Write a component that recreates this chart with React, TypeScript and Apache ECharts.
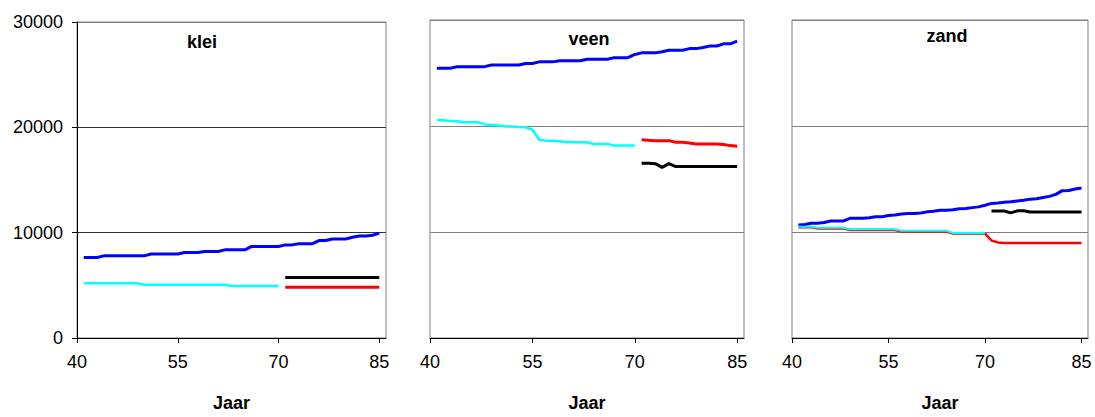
import React, { useEffect, useRef } from "react";
import * as echarts from "echarts";

// ---- x values (years) ----
const yearsFull = [41, 42, 43, 44, 45, 46, 47, 48, 49, 50, 51, 52, 53, 54, 55, 56, 57, 58, 59, 60, 61, 62, 63, 64, 65, 66, 67, 68, 69, 70, 71, 72, 73, 74, 75, 76, 77, 78, 79, 80, 81, 82, 83, 84, 85];
const yearsPast = [41, 42, 43, 44, 45, 46, 47, 48, 49, 50, 51, 52, 53, 54, 55, 56, 57, 58, 59, 60, 61, 62, 63, 64, 65, 66, 67, 68, 69, 70];
const yearsFuture = [71, 72, 73, 74, 75, 76, 77, 78, 79, 80, 81, 82, 83, 84, 85];

const xTicks = [40, 55, 70, 85];
const yTicks = [0, 10000, 20000, 30000];
const panelTitles = ["klei", "veen", "zand"];
const xName = "Jaar";

// ---- klei ----
const kleiBlue = [7650, 7650, 7650, 7800, 7800, 7800, 7800, 7800, 7800, 7800, 7970, 7970, 7970, 7970, 7970, 8120, 8120, 8120, 8220, 8220, 8220, 8370, 8370, 8370, 8370, 8690, 8690, 8690, 8690, 8690, 8840, 8840, 8940, 8940, 8940, 9250, 9250, 9400, 9400, 9400, 9560, 9690, 9690, 9750, 9950];
const kleiCyan = [5190, 5190, 5190, 5190, 5190, 5190, 5190, 5190, 5190, 5060, 5060, 5060, 5060, 5060, 5060, 5060, 5060, 5060, 5060, 5060, 5060, 5060, 4940, 4940, 4940, 4940, 4940, 4940, 4940, 4940];
const kleiRed = [4810, 4810, 4810, 4810, 4810, 4810, 4810, 4810, 4810, 4810, 4810, 4810, 4810, 4810, 4810];
const kleiBlack = [5750, 5750, 5750, 5750, 5750, 5750, 5750, 5750, 5750, 5750, 5750, 5750, 5750, 5750, 5750];

// ---- veen ----
const veenBlue = [25450, 25450, 25450, 25600, 25600, 25600, 25600, 25600, 25750, 25750, 25750, 25750, 25750, 25900, 25900, 26050, 26050, 26050, 26150, 26150, 26150, 26150, 26300, 26300, 26300, 26300, 26450, 26450, 26450, 26750, 26900, 26900, 26900, 27000, 27150, 27150, 27150, 27300, 27300, 27400, 27550, 27550, 27750, 27750, 28000];
const veenCyan = [20570, 20550, 20470, 20450, 20350, 20350, 20350, 20150, 20100, 20050, 19950, 19950, 19900, 19880, 19650, 18700, 18620, 18600, 18560, 18470, 18470, 18470, 18470, 18310, 18310, 18310, 18150, 18150, 18150, 18150];
const veenRed = [18710, 18650, 18620, 18620, 18620, 18470, 18470, 18400, 18310, 18310, 18310, 18310, 18250, 18150, 18100];
const veenBlack = [16480, 16480, 16450, 16100, 16450, 16170, 16170, 16170, 16170, 16170, 16170, 16170, 16170, 16170, 16170];

// ---- zand ----
const zandBlue = [10670, 10700, 10820, 10820, 10900, 11040, 11040, 11040, 11290, 11290, 11290, 11350, 11440, 11440, 11550, 11600, 11700, 11750, 11750, 11800, 11900, 11950, 12060, 12060, 12100, 12200, 12210, 12300, 12370, 12530, 12700, 12740, 12800, 12850, 12930, 13000, 13100, 13140, 13250, 13360, 13550, 13900, 13920, 14050, 14160];
const zandCyan = [10500, 10500, 10500, 10400, 10400, 10400, 10400, 10400, 10250, 10250, 10250, 10250, 10250, 10250, 10250, 10250, 10110, 10110, 10110, 10110, 10110, 10110, 10110, 10110, 9910, 9910, 9910, 9910, 9910, 9910];
const zandRed = [10440, 10440, 10440, 10340, 10340, 10340, 10340, 10340, 10190, 10190, 10190, 10190, 10190, 10190, 10190, 10190, 10050, 10050, 10050, 10050, 10050, 10050, 10050, 10050, 9850, 9850, 9850, 9850, 9850, 9850, 9200, 9020, 8970, 8970, 8970, 8970, 8970, 8970, 8970, 8970, 8970, 8970, 8970, 8970, 8970];
const zandBlack = [11980, 11980, 11980, 11800, 12000, 12000, 11890, 11890, 11890, 11890, 11890, 11890, 11890, 11890, 11890];

const FONT = "'Liberation Sans', Arial, sans-serif";

const pair = (xs: number[], ys: number[]) => xs.map((x, i) => [x, ys[i]]);

export default function App() {
  const ref = useRef<HTMLDivElement>(null);
  useEffect(() => {
    if (!ref.current) return;
    const chart = echarts.init(ref.current, null, { renderer: "svg" });

    const grids = [
      { left: 77, top: 22, width: 309, height: 320 },
      { left: 430, top: 20, width: 314, height: 323 },
      { left: 792, top: 20, width: 296, height: 323 },
    ];
    const titlePos = [
      [202, 42],
      [589, 39],
      [947, 35.5],
    ];

    const panels = [
      { blue: pair(yearsFull, kleiBlue), cyan: pair(yearsPast, kleiCyan), red: pair(yearsFuture, kleiRed), black: pair(yearsFuture, kleiBlack), thin: false },
      { blue: pair(yearsFull, veenBlue), cyan: pair(yearsPast, veenCyan), red: pair(yearsFuture, veenRed), black: pair(yearsFuture, veenBlack), thin: false },
      { blue: pair(yearsFull, zandBlue), cyan: pair(yearsPast, zandCyan), red: pair(yearsFull, zandRed), black: pair(yearsFuture, zandBlack), thin: true },
    ];

    const series: any[] = [];
    panels.forEach((p, i) => {
      const mk = (data: number[][], color: string, width: number) => ({
        type: "line",
        xAxisIndex: i,
        yAxisIndex: i,
        data,
        showSymbol: false,
        symbol: "none",
        silent: true,
        lineStyle: { color, width },
        itemStyle: { color },
      });
      series.push(mk(p.blue, "#0000FF", 3));
      series.push(mk(p.red, "#FF0000", p.thin ? 2.5 : 3));
      series.push(mk(p.cyan, "#00FFFF", p.thin ? 2 : 2.5));
      series.push(mk(p.black, "#000000", 3));
    });

    const option: any = {
      animation: false,
      grid: grids.map((g) => ({ ...g, show: true, borderColor: "#808080", borderWidth: 1, backgroundColor: "transparent" })),
      xAxis: grids.map((_, i) => ({
        type: "value",
        gridIndex: i,
        min: 40,
        max: 86,
        interval: 15,
        name: xName,
        nameLocation: "middle",
        nameGap: 56,
        nameTextStyle: { fontFamily: FONT, fontSize: 18, fontWeight: "bold", color: "#000" },
        axisLine: { show: true, onZero: false, lineStyle: { color: "#000", width: 1 } },
        axisTick: { show: true, inside: false, length: 5, customValues: xTicks, lineStyle: { color: "#000" } },
        axisLabel: { show: true, customValues: xTicks, margin: 15, fontFamily: FONT, fontSize: 18, color: "#000" },
        splitLine: { show: false },
      })),
      yAxis: grids.map((_, i) => ({
        type: "value",
        gridIndex: i,
        min: 0,
        max: 30000,
        interval: 10000,
        axisLine: { show: i === 0, lineStyle: { color: "#000", width: 1 } },
        axisTick: { show: i === 0, inside: false, length: 5, customValues: yTicks, lineStyle: { color: "#000" } },
        axisLabel: {
          show: i === 0,
          margin: 14,
          fontFamily: FONT,
          fontSize: 18,
          color: "#000",
          formatter: (v: number) => String(v),
        },
        splitLine: {
          show: true,
          lineStyle: {
            color: i === 0 ? ["#303030", "#303030", "#303030", "#808080"] : "#808080",
            width: 1,
          },
        },
      })),
      graphic: panelTitles.map((t, i) => ({
        type: "text",
        x: titlePos[i][0],
        y: titlePos[i][1],
        silent: true,
        style: {
          text: t,
          fontFamily: FONT,
          fontSize: 18,
          fontWeight: "bold",
          fill: "#000",
          align: "center",
          verticalAlign: "middle",
        },
      })),
      series,
    };
    chart.setOption(option);
    return () => chart.dispose();
  }, []);

  return (
    <div
      ref={ref}
      style={{ position: "absolute", left: 0, top: 0, width: 1095, height: 417, background: "#fff" }}
    />
  );
}
